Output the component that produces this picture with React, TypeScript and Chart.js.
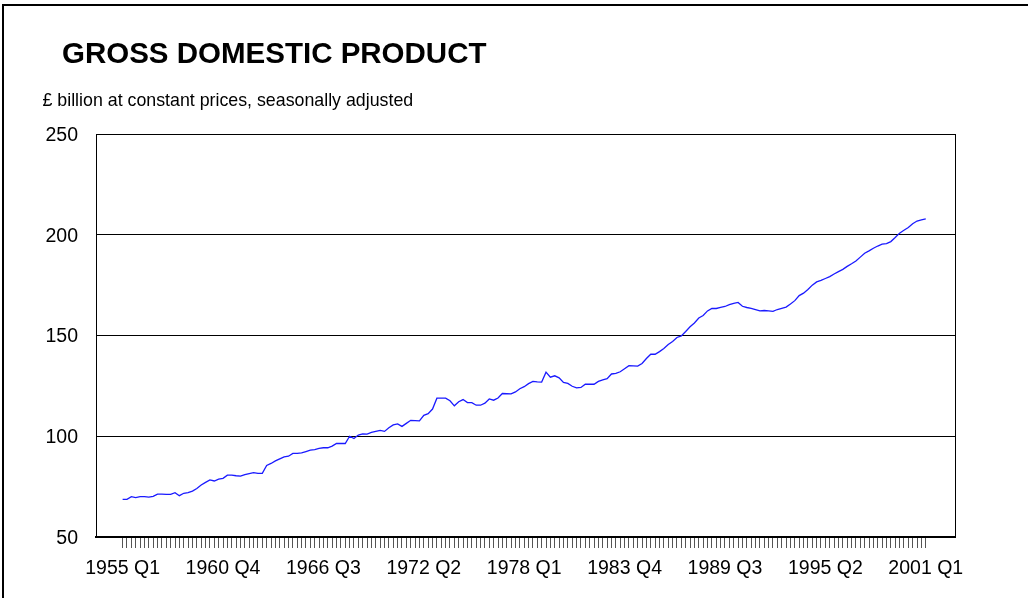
import React, { useEffect, useRef } from 'react';
import { Chart, registerables } from 'chart.js';

Chart.register(...registerables);

const chartTitle = 'GROSS DOMESTIC PRODUCT';
const chartSubtitle = '£ billion at constant prices, seasonally adjusted';
const firstYear = 1955;

// UK GDP, quarterly, 1955 Q1 - 2001 Q1 (£ billion, constant prices, SA)
const gdp: number[] = [
  68.7, 68.7, 70.0, 69.5, 70.0, 70.0, 69.8, 70.2, 71.3, 71.3,
  71.2, 71.2, 72.0, 70.5, 71.7, 72.0, 72.8, 74.1, 75.8, 77.1,
  78.3, 77.8, 78.7, 79.1, 80.7, 80.7, 80.4, 80.2, 81.0, 81.5,
  81.9, 81.6, 81.6, 85.5, 86.5, 87.8, 88.8, 89.8, 90.1, 91.5,
  91.5, 91.7, 92.4, 93.1, 93.4, 94.0, 94.3, 94.3, 95.1, 96.4,
  96.4, 96.4, 100.0, 98.9, 100.6, 101.2, 101.1, 101.9, 102.4, 102.9,
  102.4, 104.2, 105.6, 106.1, 104.9, 106.4, 107.9, 107.8, 107.6, 110.4,
  111.2, 113.5, 118.9, 118.9, 118.9, 117.6, 115.1, 117.1, 118.2, 116.7,
  116.7, 115.4, 115.4, 116.4, 118.5, 117.9, 119.0, 121.2, 121.1, 121.0,
  122.0, 123.6, 124.6, 126.1, 127.2, 127.0, 126.9, 131.8, 129.3, 130.0,
  129.0, 126.7, 126.2, 124.8, 124.0, 124.2, 125.8, 125.8, 125.8, 127.2,
  128.0, 128.6, 130.9, 131.2, 132.0, 133.5, 135.0, 134.9, 134.8, 136.1,
  138.6, 140.7, 140.7, 142.0, 143.5, 145.5, 147.0, 149.0, 149.8, 152.0,
  154.3, 156.2, 158.7, 159.9, 162.2, 163.4, 163.4, 164.0, 164.4, 165.3,
  166.0, 166.4, 164.5, 163.9, 163.5, 162.9, 162.2, 162.4, 162.2, 162.0,
  162.9, 163.5, 164.1, 165.6, 167.3, 169.8, 171.0, 172.8, 175.0, 176.6,
  177.4, 178.3, 179.2, 180.5, 181.7, 182.8, 184.3, 185.6, 187.0, 188.9,
  190.8, 192.0, 193.3, 194.4, 195.3, 195.6, 196.6, 198.6, 200.8, 202.2,
  203.6, 205.5, 206.8, 207.4, 207.9,
];

const quarterLabels: string[] = gdp.map(
  (_, i) => `${firstYear + Math.floor(i / 4)} Q${(i % 4) + 1}`
);

const xTickLabels = [
  '1955 Q1', '1960 Q4', '1966 Q3', '1972 Q2', '1978 Q1',
  '1983 Q4', '1989 Q3', '1995 Q2', '2001 Q1',
];
const xLabelStep = 23;
const yMin = 50;
const yMax = 250;
const yStep = 50;

const fontFamily = "'Liberation Sans', Arial, Helvetica, sans-serif";

const framePlugin = {
  id: 'rightFrame',
  afterDatasetsDraw(chart: any) {
    const { ctx, chartArea } = chart;
    ctx.save();
    ctx.strokeStyle = '#000';
    ctx.lineWidth = 1;
    const x = Math.round(chartArea.right) + 0.5;
    ctx.beginPath();
    ctx.moveTo(x, chartArea.top);
    ctx.lineTo(x, chartArea.bottom);
    ctx.stroke();
    ctx.restore();
  },
};

export default function App() {
  const canvasRef = useRef<HTMLCanvasElement>(null);

  useEffect(() => {
    if (!canvasRef.current) return;
    const chart = new Chart(canvasRef.current, {
      type: 'line',
      data: {
        datasets: [
          {
            label: 'GDP',
            data: gdp.map((v, i) => ({ x: i, y: v })),
            borderColor: '#1a1aff',
            borderWidth: 1.3,
            pointRadius: 0,
            tension: 0,
            fill: false,
          },
        ],
      },
      options: {
        responsive: false,
        animation: false,
        layout: { padding: { left: 0, right: 73, top: 134, bottom: 0 } },
        plugins: {
          legend: { display: false },
          title: { display: false },
          tooltip: { enabled: false },
        },
        scales: {
          x: {
            type: 'linear',
            min: -6.1,
            max: 190.7,
            afterFit: (s: any) => {
              s.height = 61;
            },
            afterBuildTicks: (s: any) => {
              s.ticks = quarterLabels.map((_, i) => ({ value: i }));
            },
            ticks: {
              autoSkip: false,
              maxRotation: 0,
              minRotation: 0,
              padding: 9,
              color: '#000',
              font: { family: fontFamily, size: 19.5 },
              callback: (v: any) => {
                const i = Number(v);
                return i % xLabelStep === 0 ? xTickLabels[i / xLabelStep] : '';
              },
            },
            grid: {
              drawOnChartArea: false,
              drawTicks: true,
              tickLength: 11,
              tickColor: '#555',
              lineWidth: 1,
            },
            border: { display: true, color: '#000', width: 2 },
          },
          y: {
            min: yMin,
            max: yMax,
            afterFit: (s: any) => {
              s.width = 96;
            },
            ticks: {
              stepSize: yStep,
              padding: 18,
              labelOffset: 1.5,
              color: '#000',
              font: { family: fontFamily, size: 19.5 },
            },
            grid: { color: '#000', lineWidth: 1, drawTicks: false },
            border: { display: true, color: '#000', width: 1 },
          },
        },
      },
      plugins: [framePlugin],
    } as any);
    return () => chart.destroy();
  }, []);

  return (
    <div
      style={{
        position: 'fixed',
        left: 0,
        top: 0,
        width: 1028,
        height: 598,
        overflow: 'hidden',
        background: '#fff',
      }}
    >
      <canvas
        ref={canvasRef}
        width={1028}
        height={598}
        style={{ position: 'absolute', left: 0, top: 0, display: 'block' }}
      />
      <div
        style={{
          position: 'absolute',
          left: 2,
          top: 4,
          width: 1100,
          height: 700,
          border: '2px solid #000',
          boxSizing: 'border-box',
          pointerEvents: 'none',
        }}
      />
      <div
        style={{
          position: 'absolute',
          left: 62,
          top: 38.3,
          font: `bold 29.5px/1 ${fontFamily}`,
          whiteSpace: 'nowrap',
          color: '#000',
        }}
      >
        {chartTitle}
      </div>
      <div
        style={{
          position: 'absolute',
          left: 42.5,
          top: 91.6,
          font: `17.8px/1 ${fontFamily}`,
          whiteSpace: 'nowrap',
          color: '#000',
        }}
      >
        {chartSubtitle}
      </div>
    </div>
  );
}
